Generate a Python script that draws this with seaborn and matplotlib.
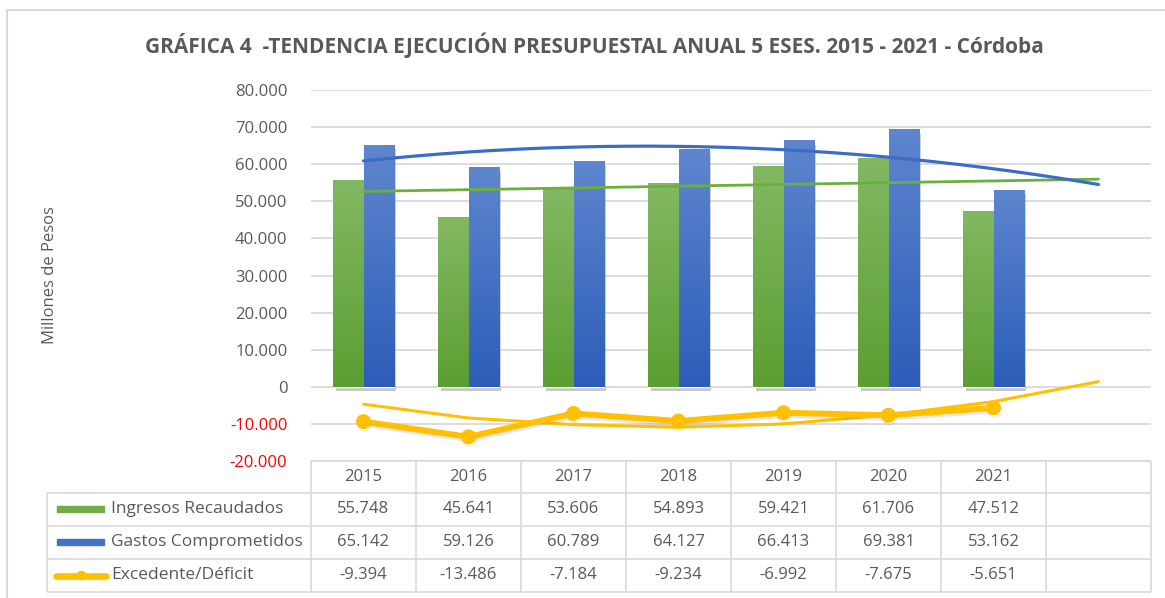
import numpy as np
import pandas as pd
import matplotlib
matplotlib.use("Agg")
import matplotlib.pyplot as plt
import seaborn as sns
from matplotlib import patheffects as pe
from matplotlib.colors import LinearSegmentedColormap, to_rgba
from matplotlib.patches import Rectangle

# ---------- Data ----------
years = ["2015", "2016", "2017", "2018", "2019", "2020", "2021"]
ingresos = [55748, 45641, 53606, 54893, 59421, 61706, 47512]
gastos = [65142, 59126, 60789, 64127, 66413, 69381, 53162]
excedente = [-9394, -13486, -7184, -9234, -6992, -7675, -5651]
# trend line of the surplus/deficit (2015..2021 + one forecast slot)
tendencia_excedente = [-4700, -8400, -10200, -10900, -10000, -7600, -4000, 1400]

series_names = ["Ingresos Recaudados", "Gastos Comprometidos", "Excedente/Déficit"]
title = "GRÁFICA 4  -TENDENCIA EJECUCIÓN PRESUPUESTAL ANUAL 5 ESES. 2015 - 2021 - Córdoba"

# ---------- Style ----------
sns.set_theme(style="white")
plt.rcParams["font.family"] = ["Open Sans", "DejaVu Sans"]

GREEN, BLUE, GOLD = "#70AD47", "#4472C4", "#FFC000"
TEXT, GRID = "#595959", "#D9D9D9"
W, H = 1165, 598


def fmt(v):
    return f"{v:,.0f}".replace(",", ".")


df = pd.DataFrame({"pos": range(len(years)),
                   series_names[0]: ingresos,
                   series_names[1]: gastos})
long = df.melt(id_vars="pos", var_name="serie", value_name="valor")

fig = plt.figure(figsize=(W / 100, H / 100), dpi=100)
ax = fig.add_axes([311 / W, (H - 461) / H, 840 / W, 371 / H])

sns.barplot(data=long, x="pos", y="valor", hue="serie", palette=[GREEN, BLUE],
            native_scale=True, width=0.573, saturation=1, errorbar=None,
            legend=False, ax=ax, zorder=2)

# gradient fill + soft shadow on the bars
grads = {GREEN: ("#5C9E32", "#82B862"), BLUE: ("#2C5DB9", "#5E86CE")}
grad = np.linspace(0, 1, 256).reshape(-1, 1)
for bar in list(ax.patches):
    base = GREEN if np.allclose(bar.get_facecolor(), to_rgba(GREEN)) else BLUE
    cmap = LinearSegmentedColormap.from_list("g", grads[base])
    x0, y0, w, h = bar.get_x(), bar.get_y(), bar.get_width(), bar.get_height()
    bar.set_path_effects([pe.SimplePatchShadow(offset=(1.5, -3), shadow_rgbFace="black", alpha=0.22),
                          pe.Normal()])
    im = ax.imshow(grad, extent=[x0, x0 + w, y0, y0 + h], origin="lower", cmap=cmap,
                   aspect="auto", zorder=2.1)
    im.set_clip_path(bar)

# trend lines (least squares, like the spreadsheet trendlines)
xs = np.linspace(0, len(years), 200)
fit_ing = np.polyval(np.polyfit(df["pos"], ingresos, 1), xs)
fit_gas = np.polyval(np.polyfit(df["pos"], gastos, 2), xs)
sns.lineplot(x=xs, y=fit_ing, color="#6BB03F", lw=2, ax=ax, zorder=3)
sns.lineplot(x=xs, y=fit_gas, color="#3D6CC6", lw=2.3, ax=ax, zorder=3)
sns.lineplot(x=np.arange(len(tendencia_excedente)), y=tendencia_excedente,
             color=GOLD, lw=2.2, ax=ax, zorder=3)

sns.lineplot(x=df["pos"], y=excedente, color=GOLD, lw=4.3, marker="o", markersize=10,
             markeredgecolor=GOLD, ax=ax, zorder=4)
ax.lines[-1].set_path_effects([pe.SimpleLineShadow(offset=(0.8, -1.8), shadow_color="#7F7F7F",
                                                   alpha=0.18), pe.Normal()])

ax.set_xlim(-0.5, len(years) + 0.5)
ax.set_ylim(-20000, 80000)
yticks = list(range(-20000, 80001, 10000))
ax.set_yticks(yticks)
ax.set_yticklabels([fmt(v) for v in yticks])
for lbl, v in zip(ax.get_yticklabels(), yticks):
    lbl.set_color("#FF0000" if v < 0 else TEXT)
ax.tick_params(axis="y", length=0, pad=17, labelsize=12)
ax.set_xticks([])
ax.set_xlabel("")
ax.set_ylabel("")
for s in ax.spines.values():
    s.set_visible(False)
ax.grid(axis="y", color=GRID, lw=1.3)
ax.set_axisbelow(True)

# ---------- Data table ----------
tab = fig.add_axes([0, 0, 1, 1], zorder=5)
tab.set_xlim(0, W)
tab.set_ylim(H, 0)
tab.axis("off")

edges = np.linspace(311, 1151, len(years) + 2)
centers = (edges[:-1] + edges[1:]) / 2
rows = [461, 492.5, 525.5, 558.5, 591.5]
lkw = dict(color=GRID, lw=1.2)
tab.hlines(rows[0], edges[0], edges[-1], **lkw)
tab.hlines(rows[1:], 47, edges[-1], **lkw)
tab.vlines(edges, rows[0], rows[-1], **lkw)
tab.vlines(47, rows[1], rows[-1], **lkw)

for c, y in zip(centers, years):
    tab.text(c, (rows[0] + rows[1]) / 2, y, ha="center", va="center", fontsize=12, color=TEXT)

for i, (name, vals) in enumerate(zip(series_names, [ingresos, gastos, excedente])):
    yc = (rows[i + 1] + rows[i + 2]) / 2
    tab.text(111, yc, name, ha="left", va="center", fontsize=12.5, color=TEXT)
    for c, v in zip(centers, vals):
        tab.text(c, yc, fmt(v), ha="center", va="center", fontsize=12, color=TEXT)

tab.add_patch(Rectangle((57, 506), 47, 6, color=GREEN))
tab.add_patch(Rectangle((57, 539), 47, 6, color=BLUE))
tab.plot([56, 106], [575.5, 575.5], color=GOLD, lw=4.8, solid_capstyle="round")
tab.plot([81], [574.5], "o", color=GOLD, markersize=6)

# chart border
tab.plot([7, 7], [10, H], color=GRID, lw=1.5)
tab.plot([7, W], [10, 10], color=GRID, lw=1.5)

fig.text(594 / W, 1 - 45 / H, title, ha="center", va="center", fontsize=15,
         weight="bold", color=TEXT)
fig.text(50 / W, 1 - 275 / H, "Millones de Pesos", rotation=90, ha="center",
         va="center", fontsize=12, color=TEXT)

fig.savefig("out.png", dpi=100)
